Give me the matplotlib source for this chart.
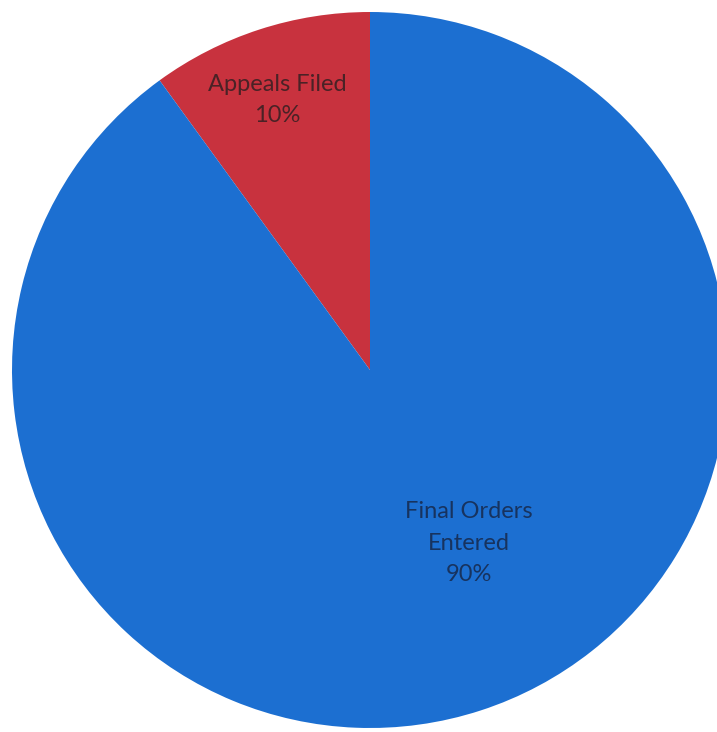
import matplotlib.pyplot as plt

# outcome shares
categories = ["Appeals Filed", "Final Orders\nEntered"]
shares = [10, 90]
colors = ["#c8323e", "#1c6fd1"]
text_colors = ["#4a2226", "#17335f"]

W, H, DPI = 717, 732, 100
cx, cy, r = 370, 370, 358  # pie centre and radius in pixels

fig = plt.figure(figsize=(W / DPI, H / DPI), dpi=DPI)
ax = fig.add_axes([0, 0, 1, 1])

wedges, _ = ax.pie(shares, colors=colors, startangle=90, counterclock=True,
                   radius=1, wedgeprops=dict(linewidth=0))

# pie() resets the limits, so set them afterwards
ax.set_xlim(-cx / r, (W - cx) / r)
ax.set_ylim(-(H - cy) / r, cy / r)
ax.set_aspect("auto")
ax.axis("off")

# label positions (pixel coords of each text block centre)
label_px = [(277, 100), (469, 543)]
for cat, val, (px, py), tc in zip(categories, shares, label_px, text_colors):
    ax.text((px - cx) / r, (cy - py) / r, f"{cat}\n{val}%",
            ha="center", va="center", fontsize=17, family="Lato",
            color=tc, linespacing=1.6)

fig.savefig("out.png", dpi=DPI, facecolor="white")
